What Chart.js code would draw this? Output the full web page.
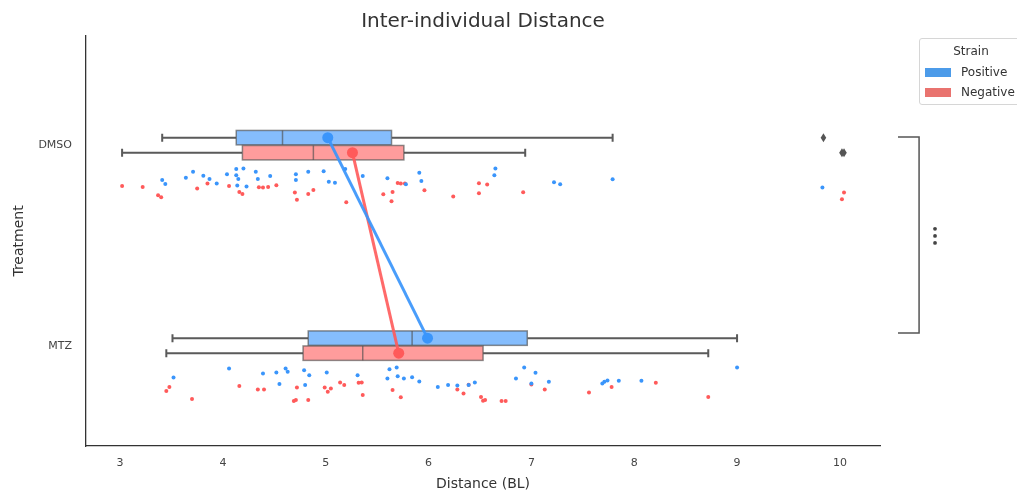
<!DOCTYPE html>
<html>
<head>
<meta charset="utf-8">
<title>Inter-individual Distance</title>
<script src="https://cdn.jsdelivr.net/npm/chart.js@4.4.0/dist/chart.umd.min.js"></script>
<style>
  html, body { margin: 0; padding: 0; background: #fff; overflow: hidden; }
  #wrap { position: relative; width: 1017px; height: 496px; overflow: hidden; }
  #legend {
    position: absolute; left: 919px; top: 38px; width: 104px; height: 67px;
    border: 1px solid #d6d6d6; border-radius: 3px; background: #fff;
    font-family: "DejaVu Sans", sans-serif; font-size: 12px; color: #333;
    box-sizing: border-box;
  }
  #legend .ttl { position: absolute; left: 0; width: 100%; top: 5px; text-align: center; font-size: 12px; }
  #legend .item { position: absolute; left: 5px; height: 12px; line-height: 12px; white-space: nowrap; }
  #legend .sw { display: inline-block; width: 26px; height: 9px; vertical-align: middle; margin-right: 10px; }
</style>
</head>
<body>
<div id="wrap">
  <canvas id="chart" width="1017" height="496"></canvas>
  <div id="legend">
    <div class="ttl">Strain</div>
    <div class="item" style="top:27px"><span class="sw" style="background:#4c9be9"></span>Positive</div>
    <div class="item" style="top:47px"><span class="sw" style="background:#e9736f"></span>Negative</div>
  </div>
</div>
<script>
// categories
const treatments = ["DMSO", "MTZ"];
const strains = ["Positive", "Negative"];
const xTicks = [3, 4, 5, 6, 7, 8, 9, 10];

// box summaries, one value per treatment (DMSO, MTZ)
const posLow = [3.41, 3.51];
const posQ1 = [4.13, 4.83];
const posMed = [4.58, 5.84];
const posQ3 = [5.64, 6.96];
const posHigh = [7.79, 9.00];
const posFliers = [[9.84], []];
const posMean = [5.02, 5.99];

const negLow = [3.02, 3.45];
const negQ1 = [4.19, 4.78];
const negMed = [4.88, 5.36];
const negQ3 = [5.76, 6.53];
const negHigh = [6.94, 8.72];
const negFliers = [[10.02, 10.04], []];
const negMean = [5.26, 5.71];

// strip points: distance + vertical jitter (category units)
const dmsoPosX = [3.41, 3.44, 3.64, 3.71, 3.81, 3.87, 3.94, 4.04, 4.13, 4.13, 4.15, 4.20, 4.14, 4.23, 4.32, 4.34, 4.46, 4.71, 4.71, 4.83, 4.98, 5.03, 5.09, 5.19, 5.36, 5.60, 5.78, 5.91, 5.93, 6.64, 6.65, 7.22, 7.28, 7.79, 9.83];
const dmsoPosJit = [0.173, 0.193, 0.162, 0.132, 0.152, 0.168, 0.191, 0.144, 0.119, 0.149, 0.168, 0.116, 0.201, 0.206, 0.132, 0.168, 0.153, 0.144, 0.173, 0.132, 0.129, 0.182, 0.187, 0.119, 0.153, 0.165, 0.195, 0.137, 0.178, 0.149, 0.116, 0.185, 0.195, 0.170, 0.211];

const dmsoNegX = [3.02, 3.22, 3.37, 3.40, 3.75, 3.85, 4.06, 4.16, 4.19, 4.35, 4.39, 4.44, 4.52, 4.70, 4.72, 4.83, 4.88, 5.20, 5.56, 5.64, 5.65, 5.70, 5.73, 5.77, 5.96, 6.24, 6.49, 6.57, 6.49, 6.92, 10.04, 10.02];
const dmsoNegJit = [0.203, 0.208, 0.249, 0.259, 0.216, 0.191, 0.203, 0.233, 0.243, 0.210, 0.211, 0.208, 0.200, 0.236, 0.272, 0.243, 0.223, 0.284, 0.244, 0.279, 0.233, 0.188, 0.191, 0.191, 0.224, 0.256, 0.190, 0.196, 0.239, 0.234, 0.236, 0.269];

const mtzPosX = [3.52, 4.06, 4.39, 4.52, 4.61, 4.63, 4.55, 4.79, 4.84, 4.80, 5.01, 5.31, 5.62, 5.69, 5.60, 5.70, 5.76, 5.84, 5.91, 6.09, 6.19, 6.28, 6.39, 6.45, 6.85, 6.93, 7.04, 7.00, 7.17, 7.69, 7.74, 7.71, 7.85, 8.07, 9.00];
const mtzPosJit = [0.158, 0.114, 0.139, 0.134, 0.114, 0.130, 0.191, 0.122, 0.147, 0.196, 0.134, 0.147, 0.117, 0.109, 0.163, 0.152, 0.163, 0.157, 0.178, 0.206, 0.196, 0.198, 0.196, 0.183, 0.163, 0.109, 0.135, 0.188, 0.180, 0.188, 0.173, 0.180, 0.175, 0.175, 0.109];

const mtzNegX = [3.45, 3.48, 3.70, 4.16, 4.34, 4.40, 4.72, 4.69, 4.71, 4.83, 4.99, 5.02, 5.05, 5.14, 5.18, 5.32, 5.35, 5.36, 5.65, 5.73, 6.28, 6.34, 6.39, 6.51, 6.53, 6.55, 6.71, 6.75, 7.00, 7.13, 7.56, 7.78, 8.21, 8.72];
const mtzNegJit = [0.226, 0.206, 0.266, 0.201, 0.218, 0.218, 0.208, 0.276, 0.271, 0.271, 0.208, 0.229, 0.213, 0.183, 0.196, 0.185, 0.183, 0.246, 0.221, 0.257, 0.218, 0.238, 0.195, 0.256, 0.274, 0.271, 0.276, 0.276, 0.193, 0.218, 0.233, 0.206, 0.185, 0.256];

// look
const BLUE = "#3a95fb";
const RED = "#ff5a5a";
const posDodge = -0.038;
const negDodge = 0.037;
const boxHalf = 0.036;
const capHalf = 0.02;

const strip = (xs, jit, cat) => xs.map((x, i) => ({ x: x, y: cat + jit[i] }));
const means = (m, dodge) => m.map((v, i) => ({ x: v, y: i + dodge }));

const groups = [
  { dodge: posDodge, low: posLow, q1: posQ1, med: posMed, q3: posQ3, high: posHigh, fliers: posFliers, fill: "rgba(58,149,251,0.62)" },
  { dodge: negDodge, low: negLow, q1: negQ1, med: negMed, q3: negQ3, high: negHigh, fliers: negFliers, fill: "rgba(255,90,90,0.6)" }
];

// boxes + whiskers under the points, bracket on top
const boxPlugin = {
  id: "boxes",
  beforeDatasetsDraw(chart) {
    const { ctx, scales: { x, y } } = chart;
    const unit = Math.abs(y.getPixelForValue(1) - y.getPixelForValue(0));
    ctx.save();
    groups.forEach((g) => {
      treatments.forEach((t, i) => {
        const yc = y.getPixelForValue(i + g.dodge);
        const hh = boxHalf * unit;
        const ch = capHalf * unit;
        // whiskers
        ctx.strokeStyle = "#5a5a5a";
        ctx.lineWidth = 2;
        ctx.beginPath();
        ctx.moveTo(x.getPixelForValue(g.low[i]), yc);
        ctx.lineTo(x.getPixelForValue(g.q1[i]), yc);
        ctx.moveTo(x.getPixelForValue(g.q3[i]), yc);
        ctx.lineTo(x.getPixelForValue(g.high[i]), yc);
        ctx.moveTo(x.getPixelForValue(g.low[i]), yc - ch);
        ctx.lineTo(x.getPixelForValue(g.low[i]), yc + ch);
        ctx.moveTo(x.getPixelForValue(g.high[i]), yc - ch);
        ctx.lineTo(x.getPixelForValue(g.high[i]), yc + ch);
        ctx.stroke();
        // box
        const x0 = x.getPixelForValue(g.q1[i]);
        const x1 = x.getPixelForValue(g.q3[i]);
        ctx.fillStyle = "#fff";
        ctx.fillRect(x0, yc - hh, x1 - x0, 2 * hh);
        ctx.fillStyle = g.fill;
        ctx.fillRect(x0, yc - hh, x1 - x0, 2 * hh);
        ctx.strokeStyle = "rgba(80,80,80,0.65)";
        ctx.lineWidth = 1.5;
        ctx.strokeRect(x0, yc - hh, x1 - x0, 2 * hh);
        const xm = x.getPixelForValue(g.med[i]);
        ctx.beginPath();
        ctx.moveTo(xm, yc - hh);
        ctx.lineTo(xm, yc + hh);
        ctx.stroke();
        // outliers (diamonds)
        ctx.fillStyle = "#555";
        g.fliers[i].forEach((v) => {
          const px = x.getPixelForValue(v);
          ctx.beginPath();
          ctx.moveTo(px, yc - 4.5);
          ctx.lineTo(px + 2.8, yc);
          ctx.lineTo(px, yc + 4.5);
          ctx.lineTo(px - 2.8, yc);
          ctx.closePath();
          ctx.fill();
        });
      });
    });
    ctx.restore();
  },
  afterDraw(chart) {
    const { ctx, scales: { x, y } } = chart;
    const xb = x.getPixelForValue(10.77);
    const xt = x.getPixelForValue(10.565);
    const y0 = y.getPixelForValue(0 - 0.041);
    const y1 = y.getPixelForValue(1 - 0.064);
    ctx.save();
    ctx.strokeStyle = "#555";
    ctx.lineWidth = 1.5;
    ctx.beginPath();
    ctx.moveTo(xt, y0);
    ctx.lineTo(xb, y0);
    ctx.lineTo(xb, y1);
    ctx.lineTo(xt, y1);
    ctx.stroke();
    // significance mark
    ctx.fillStyle = "#444";
    const xd = x.getPixelForValue(10.925);
    [-0.035, 0, 0.035].forEach((d) => {
      ctx.beginPath();
      ctx.arc(xd, y.getPixelForValue(0.452 + d), 1.9, 0, Math.PI * 2);
      ctx.fill();
    });
    ctx.restore();
  }
};

const ctx = document.getElementById("chart");
new Chart(ctx, {
  type: "scatter",
  data: {
    datasets: [
      { label: "Positive mean", data: means(posMean, posDodge), showLine: true, borderColor: "rgba(58,149,251,0.92)", backgroundColor: BLUE, borderWidth: 3, pointRadius: 5.5, pointBorderWidth: 0 },
      { label: "Negative mean", data: means(negMean, negDodge), showLine: true, borderColor: "rgba(255,90,90,0.9)", backgroundColor: RED, borderWidth: 3, pointRadius: 5.5, pointBorderWidth: 0 },
      { label: "DMSO Positive", data: strip(dmsoPosX, dmsoPosJit, 0), backgroundColor: BLUE, pointRadius: 2, pointBorderWidth: 0 },
      { label: "DMSO Negative", data: strip(dmsoNegX, dmsoNegJit, 0), backgroundColor: RED, pointRadius: 2, pointBorderWidth: 0 },
      { label: "MTZ Positive", data: strip(mtzPosX, mtzPosJit, 1), backgroundColor: BLUE, pointRadius: 2, pointBorderWidth: 0 },
      { label: "MTZ Negative", data: strip(mtzNegX, mtzNegJit, 1), backgroundColor: RED, pointRadius: 2, pointBorderWidth: 0 }
    ]
  },
  options: {
    responsive: false,
    animation: false,
    devicePixelRatio: 1,
    layout: { padding: { left: 0, right: 137, top: 0, bottom: 0 } },
    plugins: {
      legend: { display: false },
      tooltip: { enabled: false },
      title: {
        display: true,
        text: "Inter-individual Distance",
        fullSize: false,
        color: "#333",
        font: { family: "DejaVu Sans", size: 20, weight: "normal" },
        padding: { top: 10, bottom: 2 }
      }
    },
    scales: {
      x: {
        type: "linear",
        min: 2.669,
        max: 10.39,
        afterBuildTicks: (s) => { s.ticks = xTicks.map((v) => ({ value: v })); },
        afterFit: (s) => { s.height = 50; },
        grid: { display: false, drawTicks: false },
        border: { display: true, color: "#333", width: 1.3 },
        ticks: { color: "#444", padding: 11, font: { family: "DejaVu Sans", size: 11 } },
        title: { display: true, text: "Distance (BL)", color: "#333", font: { family: "DejaVu Sans", size: 14 }, padding: { top: 0, bottom: 3 } }
      },
      y: {
        type: "linear",
        reverse: true,
        min: -0.545,
        max: 1.5,
        afterBuildTicks: (s) => { s.ticks = treatments.map((t, i) => ({ value: i })); },
        afterFit: (s) => { s.width = 86; },
        grid: { display: false, drawTicks: false },
        border: { display: true, color: "#333", width: 1.3 },
        ticks: { color: "#444", padding: 14, font: { family: "DejaVu Sans", size: 11 }, callback: (v) => treatments[v] },
        title: { display: true, text: "Treatment", color: "#333", font: { family: "DejaVu Sans", size: 14 }, padding: { top: 11, bottom: 0 } }
      }
    }
  },
  plugins: [boxPlugin]
});
</script>
</body>
</html>
